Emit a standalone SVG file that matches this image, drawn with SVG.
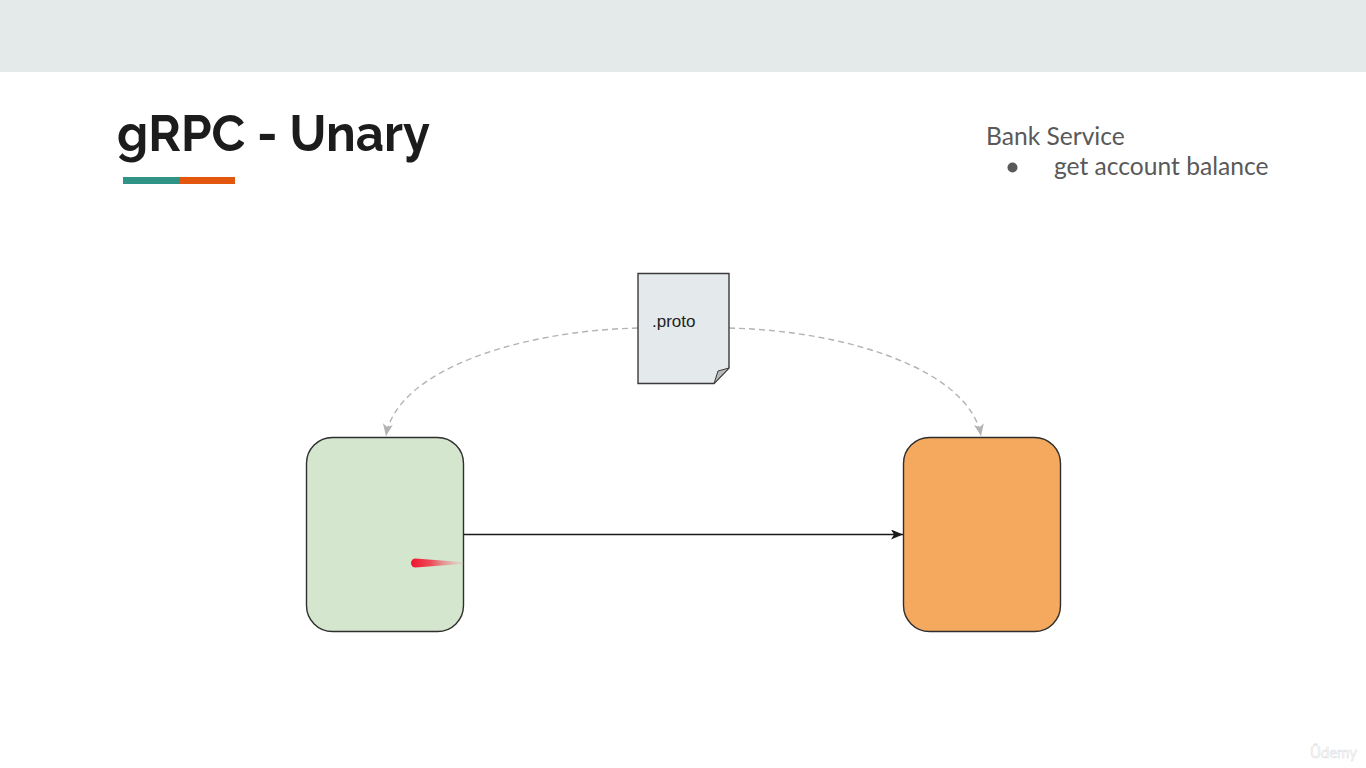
<svg xmlns="http://www.w3.org/2000/svg" width="1366" height="768" viewBox="0 0 1366 768">
<style>
.box{stroke:#2e2e2e;stroke-width:1.4}
.dash{fill:none;stroke:#b3b3b3;stroke-width:1.4;stroke-dasharray:6 4}
.body{font-family:Lato,"Open Sans",sans-serif;font-size:24.6px;fill:#595959}
</style>
<defs>
<marker id="arrB" markerUnits="userSpaceOnUse" markerWidth="14" markerHeight="12" refX="12" refY="5" orient="auto"><path d="M0 0L12 5L0 10L3 5Z" fill="#1a1a1a"/></marker>
<marker id="arrG" markerUnits="userSpaceOnUse" markerWidth="14" markerHeight="12" refX="12" refY="5" orient="auto"><path d="M0 0L12 5L0 10L3 5Z" fill="#b3b3b3"/></marker>
<linearGradient id="trail" x1="411" y1="0" x2="468" y2="0" gradientUnits="userSpaceOnUse"><stop offset="0" stop-color="#f0142f"/><stop offset="0.35" stop-color="#ef3a4c" stop-opacity=".9"/><stop offset="1" stop-color="#f0a0a0" stop-opacity="0"/></linearGradient>
</defs>
<rect width="1366" height="768" fill="#fff"/>
<rect id="band" width="1366" height="72" fill="#e4eaea"/>
<g id="title">
<text x="117" y="151" font-family="Raleway,Inter,'Open Sans',sans-serif" font-size="51" font-weight="700" fill="#1c1c1c" textLength="313" lengthAdjust="spacingAndGlyphs">gRPC - Unary</text>
<rect x="123" y="177" width="57" height="7" fill="#2f9385"/>
<rect x="180" y="177" width="55" height="7" fill="#e2560d"/>
</g>
<g id="notes">
<text class="body" x="986" y="145">Bank Service</text>
<circle cx="1012.500" cy="167.500" r="5" fill="#595959"/>
<text class="body" x="1054" y="175">get account balance</text>
</g>
<g id="connectors">
<path class="dash" d="M638 328C515 331 396 372 386 436" marker-end="url(#arrG)"/>
<path class="dash" d="M729 328C852 331 970 372 981 436" marker-end="url(#arrG)"/>
<path d="M464 534.500H903" fill="none" stroke="#1a1a1a" stroke-width="1.400" marker-end="url(#arrB)"/>
</g>
<g id="proto">
<path d="M638 273.500H729V368L714 383.500H638Z" fill="#e4e9eb" stroke="#3a3a3a" stroke-width="1.400"/>
<path d="M729 368L718 371L714 383.500Z" fill="#b8b8b8" stroke="#3a3a3a" stroke-width="1"/>
<text x="652" y="327" font-family="'Liberation Sans',Arial,sans-serif" font-size="17" fill="#222">.proto</text>
</g>
<g id="client">
<rect class="box" x="306.500" y="437.500" width="157" height="194" rx="26" fill="#d5e6cf"/>
</g>
<g id="server">
<rect class="box" x="903.500" y="437.500" width="157" height="194" rx="26" fill="#f5a95f"/>
</g>
<g id="pointer">
<path d="M415.500 558.500L468 562.500V563.500L415.500 567.500A4.500 4.500 0 0 1 415.500 558.500Z" fill="url(#trail)"/>
</g>
<text id="watermark" x="1310" y="758" font-family="Lato,sans-serif" font-size="15" fill="#fff" stroke="#d9d9d9" stroke-width=".5">Ûdemy</text>
</svg>
